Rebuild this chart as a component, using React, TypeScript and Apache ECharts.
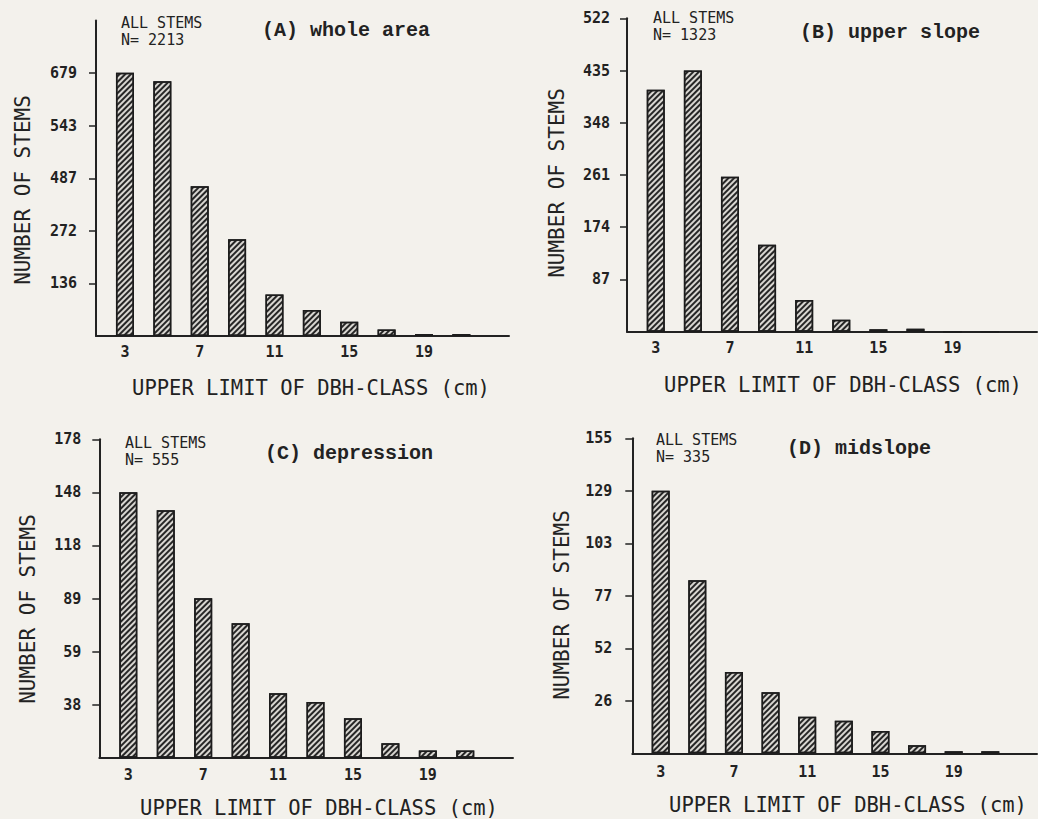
import React, { useEffect, useRef } from "react";
import * as echarts from "echarts";

const dbhClasses = [3, 5, 7, 9, 11, 13, 15, 17, 19, 21];
const xTickLabels = [3, 7, 11, 15, 19];

const wholeArea = [680, 658, 387, 250, 107, 67, 37, 17, 5, 5];
const upperSlope = [403, 435, 258, 145, 53, 20, 4, 5, 0, 0];
const depression = [148, 138, 89, 75, 36, 31, 22, 8, 4, 4];
const midslope = [129, 85, 40, 30, 18, 16, 11, 4, 1, 1];

const wholeTicks = [135.8, 271.6, 407.4, 543.2, 679];
const wholeTickLabels = ["136", "272", "487", "543", "679"];
const upperTicks = [87, 174, 261, 348, 435, 522];
const upperTickLabels = ["87", "174", "261", "348", "435", "522"];
const depTicks = [29.6, 59.2, 88.8, 118.4, 148, 177.6];
const depTickLabels = ["38", "59", "89", "118", "148", "178"];
const midTicks = [25.8, 51.6, 77.4, 103.2, 129, 154.8];
const midTickLabels = ["26", "52", "77", "103", "129", "155"];

const panelTitles = ["(A) whole area", "(B) upper slope", "(C) depression", "(D) midslope"];
const panelN = ["N= 2213", "N= 1323", "N= 555", "N= 335"];

export default function App() {
  const ref = useRef<HTMLDivElement>(null);
  useEffect(() => {
    if (!ref.current) return;
    const chart = echarts.init(ref.current, undefined, { renderer: "svg" });
    const ink = "#222222";
    const mono = "DejaVu Sans Mono";
    const panels = [
      { vals: wholeArea, ticks: wholeTicks, labels: wholeTickLabels, max: 814.8,
        grid: { left: 96, top: 20.5, width: 413, height: 315.5 }, lm: 19, xm: 8,
        allX: 121, allY: 31.5, titleX: 262, titleY: 30, yNameX: 23, yNameY: 190, xNameX: 311, xNameY: 388 },
      { vals: upperSlope, ticks: upperTicks, labels: upperTickLabels, max: 522,
        grid: { left: 627, top: 18.3, width: 410, height: 313.4 }, lm: 17, xm: 9,
        allX: 653, allY: 26.5, titleX: 800, titleY: 32, yNameX: 557, yNameY: 183, xNameX: 843, xNameY: 385 },
      { vals: depression, ticks: depTicks, labels: depTickLabels, max: 177.6,
        grid: { left: 99.3, top: 439.3, width: 413.7, height: 318.4 }, lm: 18, xm: 10,
        allX: 125, allY: 451.5, titleX: 265, titleY: 453, yNameX: 28, yNameY: 609, xNameX: 319, xNameY: 808 },
      { vals: midslope, ticks: midTicks, labels: midTickLabels, max: 154.8,
        grid: { left: 632.3, top: 438.3, width: 404.7, height: 315 }, lm: 20, xm: 11,
        allX: 656, allY: 448.5, titleX: 787, titleY: 448, yNameX: 562, yNameY: 605, xNameX: 848, xNameY: 805 },
    ];

    const grids = panels.map((p) => ({ ...p.grid, containLabel: false, outerBoundsMode: "none" }));
    const xAxes = panels.map((p, i) => ({
      type: "value",
      gridIndex: i,
      min: 1.45,
      max: 23.55,
      splitLine: { show: false },
      axisLine: { show: true, lineStyle: { color: ink, width: 2 } },
      axisTick: { show: false },
      axisLabel: {
        customValues: xTickLabels,
        margin: p.xm,
        fontFamily: mono,
        fontSize: 15,
        fontWeight: "bold",
        color: ink,
      },
    }));
    const yAxes = panels.map((p, i) => ({
      type: "value",
      gridIndex: i,
      min: 0,
      max: p.max,
      splitLine: { show: false },
      axisLine: { show: true, onZero: false, lineStyle: { color: ink, width: 2 } },
      axisTick: { show: true, customValues: p.ticks, length: 7, inside: false, lineStyle: { color: ink, width: 1.5 } },
      axisLabel: {
        customValues: p.ticks,
        margin: p.lm,
        fontFamily: mono,
        fontSize: 15,
        fontWeight: "bold",
        color: ink,
        formatter: (v: number) => {
          let best = 0;
          for (let k = 0; k < p.ticks.length; k++) {
            if (Math.abs(p.ticks[k] - v) < Math.abs(p.ticks[best] - v)) best = k;
          }
          return p.labels[best];
        },
      },
    }));
    const series = panels.map((p, i) => ({
      type: "bar",
      xAxisIndex: i,
      yAxisIndex: i,
      barWidth: 18,
      data: dbhClasses.map((c, j) => [c, p.vals[j]]),
      itemStyle: {
        color: "#d8d6d1",
        borderColor: "#1c1c1c",
        borderWidth: 1.5,
        decal: {
          symbol: "rect",
          symbolSize: 1,
          color: "#262626",
          dashArrayX: [1, 0],
          dashArrayY: [1.8, 2],
          rotation: -Math.PI / 4,
        },
      },
    }));

    const graphics: any[] = [];
    panels.forEach((p, i) => {
      graphics.push({
        type: "text", x: p.allX, y: p.allY,
        style: { text: "ALL STEMS\n" + panelN[i], font: `15px '${mono}'`, fill: ink, lineHeight: 17, verticalAlign: "middle", align: "left" },
      });
      graphics.push({
        type: "text", x: p.titleX, y: p.titleY,
        style: { text: panelTitles[i], font: `bold 20px 'Liberation Mono'`, fill: ink, verticalAlign: "middle", align: "left" },
      });
      graphics.push({
        type: "text", x: p.yNameX, y: p.yNameY, rotation: Math.PI / 2,
        style: { text: "NUMBER OF STEMS", font: `21px '${mono}'`, fill: ink, verticalAlign: "middle", align: "center" },
      });
      graphics.push({
        type: "text", x: p.xNameX, y: p.xNameY,
        style: { text: "UPPER LIMIT OF DBH-CLASS (cm)", font: `20.5px '${mono}'`, fill: ink, verticalAlign: "middle", align: "center" },
      });
    });

    chart.setOption({
      animation: false,
      backgroundColor: "#f3f1ec",
      aria: { enabled: true, decal: { show: true } },
      grid: grids,
      xAxis: xAxes,
      yAxis: yAxes,
      series,
      graphic: graphics,
    });
    return () => chart.dispose();
  }, []);
  return (
    <div
      ref={ref}
      style={{ position: "fixed", left: 0, top: 0, width: 1038, height: 819 }}
    />
  );
}
